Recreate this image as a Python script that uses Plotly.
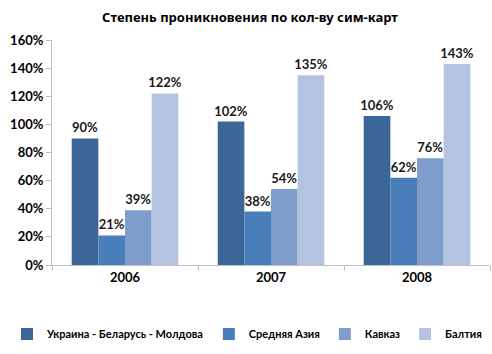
import plotly.graph_objects as go

years = ["2006", "2007", "2008"]
series_names = ["Украина - Беларусь - Молдова", "Средняя Азия", "Кавказ", "Балтия"]
ukr_bel_mol = [0.90, 1.02, 1.06]
sred_azia = [0.21, 0.38, 0.62]
kavkaz = [0.39, 0.54, 0.76]
baltia = [1.22, 1.35, 1.43]
y_ticks = [0, 0.2, 0.4, 0.6, 0.8, 1.0, 1.2, 1.4, 1.6]
title_text = "Степень проникновения по кол-ву сим-карт"

colors = ["#3C6698", "#4A7EBB", "#7F9DCB", "#B4C4E0"]
values = [ukr_bel_mol, sred_azia, kavkaz, baltia]

FONT = "Lato, 'Open Sans', sans-serif"

fig = go.Figure()
for name, vals, col in zip(series_names, values, colors):
    fig.add_trace(go.Bar(
        x=years, y=vals, name=name,
        marker=dict(color=col, line=dict(width=0)),
        text=[f"{round(v*100)}%" for v in vals],
        textposition="outside",
        constraintext="none",
        textfont=dict(family=FONT, size=13, color="#1a1a1a", weight="bold"),
        cliponaxis=False,
    ))

fig.update_layout(
    width=492, height=354,
    margin=dict(l=52, r=2, t=40, b=89, autoexpand=False),
    paper_bgcolor="white", plot_bgcolor="white",
    barmode="group", bargap=0.27, bargroupgap=0,
    uniformtext=dict(minsize=13, mode="show"),
    title=dict(text=f"<b>{title_text}</b>", x=250/492, xref="container", xanchor="center",
               y=1 - 17/354, yanchor="middle",
               font=dict(family="'Noto Sans', sans-serif", size=13, color="#000", weight="bold")),
    showlegend=True,
    legend=dict(orientation="h", x=(7-52)/438, xanchor="left",
                y=(265-334)/225, yanchor="middle",
                font=dict(family=FONT, size=11, color="#000", weight="bold"),
                itemwidth=30, tracegroupgap=0, borderwidth=0),
    font=dict(family=FONT),
)
fig.update_yaxes(range=[0, 1.6], tickvals=y_ticks, tickformat=".0%",
                 showgrid=False, zeroline=False,
                 showline=True, linecolor="#BFBFBF", linewidth=1,
                 ticks="outside", ticklen=5, tickcolor="#BFBFBF",
                 tickfont=dict(family=FONT, size=13, color="#000", weight="bold"))
fig.update_xaxes(showgrid=False, showline=True, linecolor="#BFBFBF", linewidth=1,
                 ticks="outside", ticklen=5, tickcolor="#BFBFBF", tickson="boundaries",
                 tickfont=dict(family=FONT, size=13, color="#000", weight="bold"))

fig.write_html("out.html")
